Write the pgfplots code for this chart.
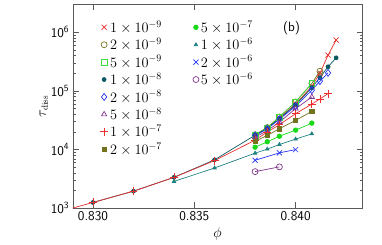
\documentclass[border=0pt]{standalone}
\usepackage{pgfplots}
\pgfplotsset{compat=1.18}
\definecolor{cRed}{rgb}{0.92,0.18,0.18}
\definecolor{cOlive}{rgb}{0.45,0.45,0.12}
\definecolor{cGreen}{rgb}{0.25,0.85,0.25}
\definecolor{cTeal}{rgb}{0.05,0.35,0.38}
\definecolor{cBlue}{rgb}{0.15,0.2,0.95}
\definecolor{cPurple}{rgb}{0.5,0.2,0.55}
\definecolor{cGreenB}{rgb}{0.1,0.85,0.1}
\definecolor{cTealB}{rgb}{0.12,0.5,0.5}
\newcommand{\fs}{\fontsize{13.5}{15}\selectfont}
\newcommand{\fl}{\fontsize{14}{15}\selectfont}
\newcommand{\tsup}[1]{\textsuperscript{\fontsize{9.5}{10}\selectfont #1}}
\pgfplotsset{
  sA/.style={cRed, mark=x, mark size=3.6pt},
  sB/.style={cOlive, mark=o, mark size=3pt},
  sC/.style={cGreen, mark=square, mark size=3pt},
  sD/.style={cTeal, mark=*, mark size=2pt},
  sE/.style={cBlue, mark=diamond, mark size=3.5pt},
  sF/.style={cPurple, mark=triangle, mark size=3pt},
  sG/.style={cRed, mark=+, mark size=4pt},
  sH/.style={cOlive, mark=square*, mark size=2.2pt},
  sI/.style={cGreenB, mark=*, mark size=2.3pt},
  sJ/.style={cTealB, mark=triangle*, mark size=2pt},
  sK/.style={cBlue, mark=x, mark size=3.6pt},
  sL/.style={cPurple, mark=o, mark size=3pt},
}
\begin{document}
\begin{tikzpicture}
\begin{axis}[
  scale only axis, width=289.8bp, height=204bp,
  ymode=log, xmin=0.829, xmax=0.8433, ymin=1e3, ymax=3e6,
  xtick={0.830,0.835,0.840}, xticklabels={0.830,0.835,0.840},
  ytick={1e3,1e4,1e5,1e6},
  yticklabels={10\tsup{3},10\tsup{4},10\tsup{5},10\tsup{6}},
  tick label style={font=\fs\sffamily},
  tick align=inside, major tick length=6bp, minor tick length=3bp,
  axis line style={black!65}, every tick/.style={black!65},
  xlabel={$\phi$}, ylabel={$\tau_{\mathrm{diss}}$},
  label style={font=\fs},
  ylabel style={yshift=-4bp},
  legend style={draw=none, fill=none, font=\fl, at={(rel axis cs:0.094,0.93)}, anchor=north west,
    inner sep=0pt, row sep=0.3bp, /tikz/every even column/.style={column sep=29bp}},
  legend columns=2, legend cell align=left,
  legend image code/.code={\draw[#1,only marks] plot coordinates {(0.1cm,0cm)};},
  every axis plot/.append style={line width=0.7pt},
]
\addplot[sA, forget plot] coordinates {(0.838,17800)(0.8386,23300)(0.8392,34500)(0.840,60000)(0.8408,120000)(0.8412,200000)(0.8416,408000)(0.842,738000)};
\addplot[sB, forget plot] coordinates {(0.838,18000)(0.8386,23800)(0.8392,36000)(0.840,65000)(0.8408,135000)(0.8412,217000)};
\addplot[sC, forget plot] coordinates {(0.838,17800)(0.8386,23500)(0.8392,35900)(0.840,64900)(0.8408,134000)};
\addplot[sD, forget plot] coordinates {(0.830,1257)(0.832,1960)(0.834,3370)(0.836,6700)(0.838,17600)(0.8386,23000)(0.8392,34000)(0.840,58000)(0.8408,114000)(0.8412,169000)(0.8416,258000)(0.842,367000)};
\addplot[sE, forget plot] coordinates {(0.838,17400)(0.8386,22500)(0.8392,33000)(0.840,55000)(0.8408,103000)(0.8412,147000)(0.8416,203000)};
\addplot[sF, forget plot] coordinates {(0.838,16300)(0.8386,21000)(0.8392,29500)(0.840,50000)(0.8408,78900)};
\addplot[sG, forget plot] coordinates {(0.828,810)(0.830,1257)(0.832,1960)(0.834,3370)(0.836,6500)(0.838,14500)(0.8386,19900)(0.8392,26600)(0.840,41000)(0.8408,59800)(0.8412,72900)(0.8416,90200)};
\addplot[sH, forget plot] coordinates {(0.838,13800)(0.8386,17500)(0.8392,22700)(0.840,31500)(0.8408,44900)};
\addplot[sI, forget plot] coordinates {(0.838,11000)(0.8386,13600)(0.8392,16900)(0.840,21500)(0.8408,28300)};
\addplot[sJ, forget plot] coordinates {(0.834,2870)(0.836,4870)(0.838,8700)(0.8386,10200)(0.8392,12200)(0.840,15100)(0.8408,18600)};
\addplot[sK, forget plot] coordinates {(0.838,6580)(0.8392,8810)(0.840,10000)};
\addplot[sL, forget plot] coordinates {(0.838,4220)(0.8392,5080)};
\addlegendimage{sA}\addlegendentry{$1\times10^{-9}$}
\addlegendimage{sI}\addlegendentry{$5\times10^{-7}$}
\addlegendimage{sB}\addlegendentry{$2\times10^{-9}$}
\addlegendimage{sJ}\addlegendentry{$1\times10^{-6}$}
\addlegendimage{sC}\addlegendentry{$5\times10^{-9}$}
\addlegendimage{sK}\addlegendentry{$2\times10^{-6}$}
\addlegendimage{sD}\addlegendentry{$1\times10^{-8}$}
\addlegendimage{sL}\addlegendentry{$5\times10^{-6}$}
\addlegendimage{sE}\addlegendentry{$2\times10^{-8}$}
\addlegendimage{empty legend}\addlegendentry{}
\addlegendimage{sF}\addlegendentry{$5\times10^{-8}$}
\addlegendimage{empty legend}\addlegendentry{}
\addlegendimage{sG}\addlegendentry{$1\times10^{-7}$}
\addlegendimage{empty legend}\addlegendentry{}
\addlegendimage{sH}\addlegendentry{$2\times10^{-7}$}
\node[font=\fs\sffamily] at (rel axis cs:0.755,0.884) {(b)};
\coordinate (sw) at (rel axis cs:0,0);
\coordinate (ne) at (rel axis cs:1,1);
\end{axis}
\path (sw) ++(-72.7bp,-33.7bp) coordinate (a);
\path (ne) ++(19.5bp,4.3bp) coordinate (b);
\useasboundingbox (a) rectangle (b);
\end{tikzpicture}
\end{document}
